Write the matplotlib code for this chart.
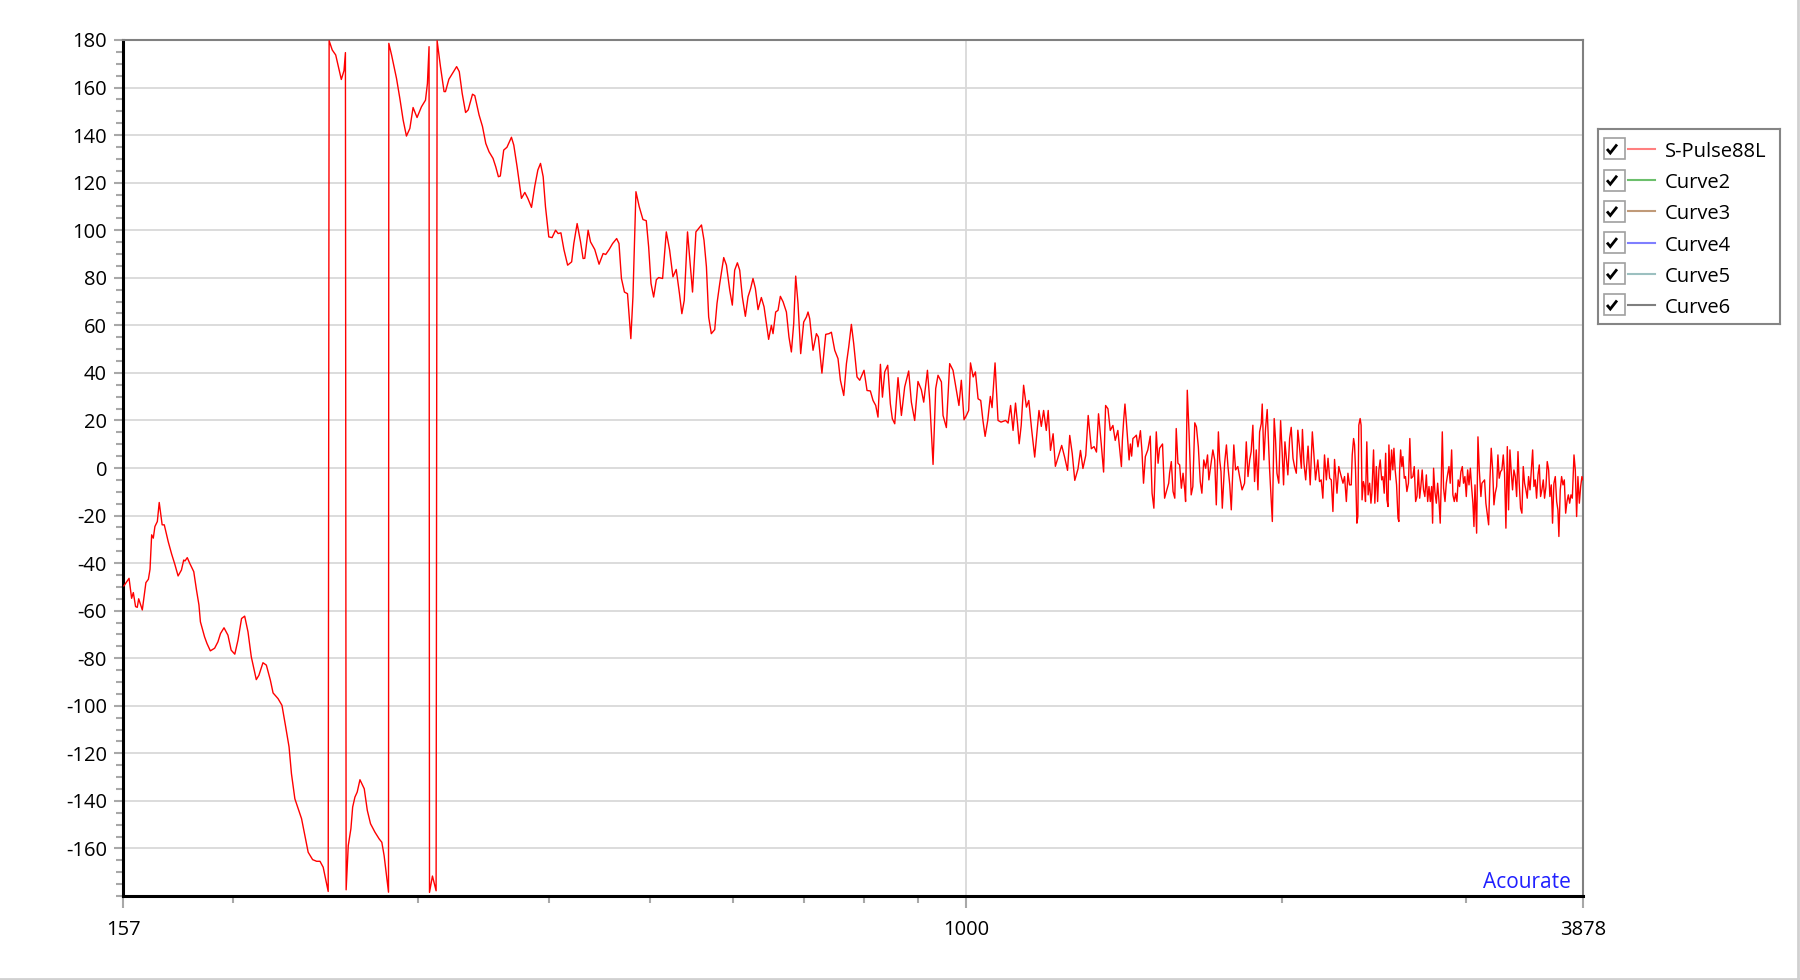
import matplotlib
matplotlib.use('Agg')
import matplotlib.pyplot as plt
from matplotlib.ticker import FixedLocator, FixedFormatter, MultipleLocator, NullFormatter
from matplotlib.patches import Rectangle
from matplotlib.lines import Line2D

plt.rcParams['font.family'] = ['Open Sans', 'DejaVu Sans']
plt.rcParams['axes.unicode_minus'] = False

# (frequency Hz, phase deg), band by band
bass = [(157.3, -49.6), (159.1, -46.4), (160.0, -54.8), (160.6, -52.4), (161.4, -58.3), (162.0, -58.6),
        (162.5, -55.0), (163.8, -59.7), (165.1, -48.2), (166.0, -46.8), (166.6, -42.6), (167.2, -28.1),
        (167.8, -29.5), (168.4, -24.6), (169.3, -22.5), (170.0, -14.5), (171.1, -23.9), (171.9, -23.9),
        (173.4, -31.0), (174.7, -36.2), (175.9, -40.4), (177.2, -45.4), (178.5, -42.9), (179.4, -38.7),
        (179.9, -39.1), (180.8, -37.7), (181.8, -40.1), (183.4, -43.6), (184.5, -51.3), (185.5, -57.6),
        (186.1, -64.7), (187.8, -71.0), (188.8, -73.8), (190.2, -76.9), (192.0, -75.8), (193.4, -73.1),
        (194.5, -69.6), (196.0, -67.2), (197.7, -70.3), (199.1, -76.6), (200.7, -78.3), (202.1, -72.4),
        (203.7, -63.3), (205.1, -62.3), (206.6, -68.9), (208.1, -79.4), (210.4, -89.0), (211.6, -87.2),
        (213.5, -81.9), (215.1, -82.9), (217.0, -89.2), (218.3, -94.6), (220.7, -97.0), (222.6, -99.8),
        (224.3, -108.2), (226.1, -117.3), (227.3, -128.6), (229.0, -139.1), (232.4, -147.5), (234.1, -154.6),
        (235.8, -161.6), (238.1, -164.7), (240.2, -165.4), (242.0, -165.4), (243.7, -167.9), (245.2, -173.5),
        (246.4, -178.1)]

wraps = [(246.9, 179.7), (248.6, 175.8), (250.5, 173.7), (252.0, 168.8), (253.6, 163.4), (255.1, 167.1),
         (255.9, 174.7), (256.3, -177.4), (257.5, -158.8), (259.0, -151.7), (260.0, -142.6), (261.3, -138.4),
         (262.6, -136.3), (264.2, -131.1), (266.7, -134.9), (268.5, -144.0), (270.4, -149.6), (273.0, -153.1),
         (275.6, -156.0), (277.2, -157.4), (278.6, -163.0), (280.1, -171.4), (281.3, -178.4), (281.5, 178.6),
         (283.2, 173.7), (286.3, 163.8), (288.4, 155.4), (290.5, 146.3), (292.6, 139.6), (294.8, 142.8),
         (296.9, 151.6), (299.5, 147.4), (302.4, 151.9), (305.1, 154.7), (306.4, 161.7), (307.5, 177.2),
         (307.8, -178.5), (309.8, -171.6), (312.3, -177.8), (313.0, 179.7)]

lowmid = [(315.3, 168.8), (317.8, 158.3), (318.8, 158.3), (321.2, 163.5), (323.8, 166.0), (326.7, 168.8),
          (328.6, 166.7), (330.7, 157.6), (333.2, 149.5), (335.1, 150.6), (338.3, 157.2), (340.0, 156.6),
          (343.2, 148.5), (345.8, 143.6), (348.3, 136.5), (350.8, 133.0), (353.9, 130.2), (356.0, 126.7),
          (358.1, 122.5), (359.6, 122.8), (362.3, 133.7), (364.9, 134.9), (368.5, 139.1), (370.4, 135.8),
          (373.1, 126.7), (376.7, 113.4), (379.5, 115.9), (382.0, 113.4), (385.1, 109.6), (387.9, 118.6),
          (390.5, 125.3), (392.8, 128.1), (395.1, 122.5), (397.1, 109.9), (400.0, 97.2), (402.9, 96.9),
          (406.0, 100.0), (408.3, 98.6), (410.8, 98.9), (413.5, 91.9), (416.9, 85.3), (420.6, 86.7),
          (422.6, 94.4), (425.7, 102.8), (428.9, 95.1), (431.3, 88.1), (432.9, 88.2), (436.1, 100.0),
          (438.4, 95.1), (442.5, 91.9), (446.7, 85.7), (450.7, 90.2), (453.3, 89.8), (456.7, 91.9),
          (460.2, 94.4), (464.3, 96.5), (466.7, 94.4), (469.2, 79.7), (472.3, 74.0), (475.5, 73.3),
          (479.0, 54.4), (481.2, 71.9), (484.4, 116.2), (487.9, 109.9), (491.9, 104.5), (495.5, 104.0),
          (498.1, 93.0), (500.7, 77.6), (503.6, 71.9), (506.6, 79.2), (509.2, 80.1), (513.6, 79.7),
          (517.8, 99.3), (521.6, 91.6), (525.4, 80.4), (529.2, 83.5), (533.0, 73.3), (535.8, 64.9),
          (538.6, 70.5), (542.5, 99.3), (545.7, 86.0), (548.5, 74.0), (552.6, 99.3)]

mid = [(559.4, 102.2), (562.5, 95.8), (565.5, 84.6), (568.3, 63.5), (571.6, 56.5), (575.9, 58.2),
       (578.8, 69.2), (582.3, 77.6), (587.4, 88.5), (590.9, 85.3), (595.2, 74.8), (598.6, 68.5),
       (601.7, 83.2), (605.3, 86.3), (608.4, 83.2), (611.9, 72.0), (616.0, 63.8), (619.6, 72.0),
       (623.2, 75.5), (626.4, 79.7), (629.7, 75.5), (633.4, 66.6), (638.0, 71.7), (641.8, 67.8),
       (645.1, 60.7), (648.3, 54.1), (652.2, 60.0), (654.6, 56.5), (658.4, 65.6), (661.8, 66.3),
       (665.2, 72.2), (669.2, 69.9), (674.1, 65.6), (677.9, 55.1), (681.5, 48.8), (685.0, 60.7),
       (688.0, 80.7), (691.5, 69.2), (695.6, 48.1), (700.2, 61.4), (704.4, 63.5), (706.9, 65.6),
       (709.5, 62.8), (714.7, 49.5), (720.0, 56.5), (723.1, 55.1), (728.8, 39.9), (734.9, 56.2),
       (740.3, 56.5), (744.1, 57.1), (749.6, 49.5), (755.0, 46.0), (759.0, 36.9), (764.6, 30.5),
       (769.1, 43.9), (773.0, 50.9), (777.5, 60.4), (781.5, 52.3), (787.2, 38.3), (791.9, 36.9),
       (799.4, 41.1), (804.7, 32.6), (810.6, 32.4), (815.4, 28.4), (820.2, 26.3), (824.3, 21.4),
       (828.7, 43.6), (832.4, 29.8), (836.6, 40.4), (842.1, 43.2), (847.0, 27.0), (850.7, 20.7)]

uppermid = [(855.2, 18.6), (861.4, 38.0), (867.8, 22.1), (874.1, 34.1), (881.8, 40.8), (887.0, 27.7),
            (893.5, 20.0), (900.0, 36.4), (906.7, 32.9), (911.4, 27.7), (918.9, 41.1), (923.5, 28.4),
            (930.3, 1.5), (935.7, 33.4), (940.5, 39.0), (947.5, 36.2), (950.9, 22.1), (957.9, 17.0),
            (964.9, 43.9), (972.0, 41.1), (979.2, 32.6), (984.7, 26.3), (989.9, 36.9), (995.8, 20.3),
            (1001, 22.1), (1006, 24.2), (1010, 44.2), (1016, 38.3), (1021, 40.4), (1027, 29.1),
            (1033, 28.4), (1038, 20.0), (1043, 13.3), (1049, 20.0), (1055, 30.1), (1059, 25.4),
            (1066, 44.2), (1073, 20.0), (1080, 19.3), (1091, 20.0), (1097, 18.9), (1103, 26.3),
            (1109, 15.8), (1115, 27.3), (1120, 18.6), (1124, 10.2), (1129, 17.9), (1135, 34.8),
            (1142, 25.6), (1148, 28.4), (1155, 16.5), (1163, 4.6), (1174, 24.2), (1180, 17.5),
            (1186, 24.2), (1193, 15.8), (1198, 24.2), (1204, 7.4), (1211, 14.4), (1217, 0.7),
            (1226, 5.3), (1234, 9.5), (1242, 4.6), (1250, -1.0), (1256, 13.7), (1263, 6.0),
            (1270, -5.2), (1279, -0.4), (1286, 7.4), (1293, -0.2), (1301, 5.3), (1308, 22.1),
            (1317, 8.1), (1325, 9.0), (1332, 6.7), (1338, 22.8), (1346, 10.2), (1353, -1.7),
            (1359, 26.3), (1366, 24.9), (1373, 15.8), (1381, 17.9), (1388, 11.6), (1396, 15.8)]

presence = [(1407, 0.6), (1410, 11.7), (1414, 20.1), (1418, 26.9), (1422, 20.1), (1427, 11.0),
            (1431, 3.4), (1435, 10.1), (1439, 5.0), (1443, 12.4), (1449, 13.1), (1454, 13.8),
            (1459, 8.9), (1467, 15.7), (1472, 6.9), (1477, -6.4), (1483, 4.8), (1491, 7.6),
            (1499, 13.4), (1505, -10.6), (1511, -16.9), (1519, 15.2), (1525, 2.0), (1530, 8.3),
            (1540, 10.1), (1547, -12.7), (1553, -9.9), (1561, -6.4), (1564, -2.2), (1570, 2.7),
            (1576, -9.9), (1582, -12.7), (1587, 16.6), (1593, 2.0), (1599, 1.3), (1605, -8.5),
            (1611, -2.2), (1617, -9.2), (1620, -14.1), (1626, 32.7), (1632, 15.9), (1640, -11.3),
            (1646, -7.8), (1653, 19.0), (1659, 17.3), (1666, 8.9), (1673, -5.7), (1679, -10.6),
            (1686, 3.4), (1693, -0.1), (1700, 5.5), (1705, -5.0), (1714, 2.7), (1720, 7.6),
            (1727, 3.4), (1733, -15.5), (1741, 15.2), (1746, 3.4), (1751, -1.5), (1756, -16.9),
            (1765, 2.0), (1772, 9.7), (1778, 0.6), (1785, -7.1), (1791, -17.6), (1801, 9.7),
            (1808, -0.8), (1817, 0.6), (1824, -3.6), (1834, -9.2), (1844, -6.4), (1851, 11.0),
            (1858, -3.6), (1865, 3.4), (1871, 6.9), (1878, 18.0), (1885, -5.7), (1892, 7.6),
            (1899, -9.2), (1906, 15.2), (1913, 18.7), (1917, 26.9), (1924, 3.4), (1931, 16.6),
            (1938, 24.6), (1948, -0.1), (1960, -22.5), (1968, 20.8), (1974, 11.7), (1980, -2.2),
            (1988, -6.4), (1996, 19.9), (2003, 6.2), (2009, -7.1), (2015, 11.0), (2021, 4.8),
            (2028, -2.9), (2036, 12.4), (2043, 17.1), (2051, 4.1), (2058, 0.6), (2066, -2.2),
            (2073, 15.9), (2081, 8.3), (2089, -0.1), (2094, 16.2), (2101, 2.0), (2109, -5.0),
            (2120, 9.2), (2130, -7.1), (2140, 15.2), (2147, 6.2), (2155, -5.0), (2166, 3.4),
            (2174, -5.7), (2182, -5.0), (2190, -12.7), (2198, 5.5), (2207, -5.0), (2215, 4.1),
            (2223, -4.3), (2231, -5.0), (2239, -18.3), (2247, 3.6), (2259, -10.6), (2268, 0.6),
            (2276, -2.2), (2289, -6.4), (2297, -3.6), (2306, -14.1), (2314, -2.2), (2322, -7.1)]

treble = [(2331, -7.1), (2336, 5.5), (2343, 12.4), (2348, 9.7), (2353, -0.8), (2360, -23.2),
          (2365, -20.4), (2370, 18.0), (2377, 20.8), (2382, 18.0), (2387, -13.4), (2394, -5.7),
          (2400, -7.8), (2405, -14.1), (2412, 11.0), (2419, -11.3), (2427, -6.4), (2434, -14.8),
          (2439, -10.6), (2448, 7.6), (2455, -14.8), (2463, 0.6), (2470, -14.1), (2477, -0.8),
          (2484, 3.4), (2492, -5.0), (2499, -3.6), (2506, -10.6), (2514, 6.2), (2521, -13.4),
          (2527, -16.2), (2532, 9.7), (2539, -5.0), (2547, 7.6), (2554, -0.8), (2560, 8.3),
          (2567, -0.8), (2575, -7.1), (2583, -21.1), (2588, -22.5), (2592, -1.5), (2598, 7.6),
          (2605, 0.6), (2611, 4.8), (2619, -4.3), (2626, -3.6), (2634, -9.9), (2643, -6.4),
          (2651, 12.4), (2659, -4.3), (2669, -3.6), (2677, 0.6), (2685, -14.1), (2693, -12.0),
          (2701, -0.8), (2709, -12.7), (2716, -7.8), (2724, -0.8), (2732, -9.2), (2740, -12.0),
          (2749, -2.9), (2757, -14.1), (2765, -7.8), (2773, -14.1), (2781, -7.8), (2787, -23.2),
          (2793, -0.1), (2801, -9.9), (2810, -14.8), (2818, -6.4), (2826, -13.4), (2834, -23.2),
          (2840, -7.1), (2847, 15.2), (2855, -8.5), (2864, -14.1), (2872, -6.4), (2880, -2.9),
          (2889, 0.6), (2897, -6.4), (2906, 7.6), (2914, -11.3), (2923, -14.1), (2931, -10.6),
          (2940, -14.1), (2948, -5.0), (2957, -7.8), (2966, -1.5), (2975, 0.6), (2983, -6.4),
          (2992, -3.6), (3001, -12.0), (3010, -0.8), (3019, -7.1), (3028, -0.1), (3036, -7.8),
          (3045, -14.8), (3052, -24.6), (3059, -7.1), (3070, -27.4), (3079, 13.1), (3088, -0.8),
          (3099, -12.0), (3106, -6.4), (3115, -5.7), (3124, -5.0), (3133, -14.8), (3142, -19.0),
          (3152, -23.9), (3161, -5.0), (3170, 8.3), (3180, -0.8), (3189, -15.5), (3198, -10.6),
          (3208, -7.8), (3217, 5.5), (3226, -4.3), (3236, -1.5), (3245, -0.8), (3255, 5.5),
          (3264, -2.2), (3274, -25.3), (3284, 9.0), (3293, -17.6), (3303, 7.6), (3313, -2.2),
          (3322, -9.2), (3332, -0.8), (3342, -3.6), (3352, -12.0), (3362, 6.9), (3371, -6.4),
          (3381, -16.9), (3391, -19.0), (3401, 0.6), (3411, -6.4), (3421, -9.2), (3431, -12.7),
          (3441, -3.6), (3452, -9.2), (3462, -0.8), (3472, 7.6), (3482, -7.8), (3492, -5.0),
          (3502, -12.7), (3513, -2.9), (3523, 1.3), (3533, -12.0), (3543, -9.2), (3554, -5.0),
          (3564, -12.7), (3575, -7.8), (3585, 2.7), (3596, -0.8), (3606, -12.0), (3617, -7.1),
          (3627, -23.2), (3638, -6.4), (3649, -3.6), (3660, -14.1), (3670, -17.6), (3678, -28.8),
          (3689, -9.2), (3700, -3.6), (3711, -7.1), (3722, -5.0), (3733, -19.0), (3744, -14.1),
          (3755, -11.3), (3766, -14.8), (3777, -11.3), (3788, -12.7), (3802, 5.5), (3813, -0.8),
          (3824, -20.4), (3835, -3.6), (3847, -14.8), (3858, -7.8), (3869, -3.6), (3878, -5.0)]

x_ticks = [157, 1000, 3878]
x_minor = [200, 300, 400, 500, 600, 700, 800, 900, 2000, 3000]
y_ticks = list(range(-160, 181, 20))

legend_names = ['S-Pulse88L', 'Curve2', 'Curve3', 'Curve4', 'Curve5', 'Curve6']
legend_colors = ['#ff7f7f', '#6cbf6c', '#c09a78', '#7f7fff', '#9cc0c0', '#7f7f7f']

points = bass + wraps + lowmid + mid + uppermid + presence + treble
freq = [f for f, p in points]
phase = [p for f, p in points]

fig = plt.figure(figsize=(18, 9.8), dpi=100)
ax = fig.add_axes([123 / 1800, 84 / 980, 1460 / 1800, 856 / 980])

ax.plot(freq, phase, color='#ff0000', lw=1.0, zorder=3)

ax.set_xscale('log')
ax.set_xlim(157, 3878)
ax.set_ylim(-180, 180)
ax.xaxis.set_major_locator(FixedLocator(x_ticks))
ax.xaxis.set_major_formatter(FixedFormatter([str(t) for t in x_ticks]))
ax.xaxis.set_minor_locator(FixedLocator(x_minor))
ax.xaxis.set_minor_formatter(NullFormatter())
ax.yaxis.set_major_locator(FixedLocator(y_ticks))
ax.yaxis.set_minor_locator(MultipleLocator(5))

ax.grid(True, which='major', color='#d9d9d9', lw=1.3, zorder=0)
ax.tick_params(which='both', color='#a8a8a8', width=1.5, labelsize=14.5, labelcolor='black')
ax.tick_params(axis='y', which='major', length=6.5, pad=5)
ax.tick_params(axis='y', which='minor', length=5)
ax.tick_params(axis='x', which='major', length=8.5, pad=9)
ax.tick_params(axis='x', which='minor', length=5)

for side in ['left', 'bottom']:
    ax.spines[side].set_color('black')
    ax.spines[side].set_linewidth(2.2)
for side in ['top', 'right']:
    ax.spines[side].set_color('#808080')
    ax.spines[side].set_linewidth(1.5)

ax.text(0.992, 0.009, 'Acourate', color='#2020ff', fontsize=15, ha='right', va='baseline',
        transform=ax.transAxes)

# legend drawn by hand (checkbox, line sample, name), in pixel units
lax = fig.add_axes([1598 / 1800, (980 - 324) / 980, 182 / 1800, 195 / 980])
lax.set_xlim(0, 182)
lax.set_ylim(195, 0)
lax.set_xticks([])
lax.set_yticks([])
for s in lax.spines.values():
    s.set_color('#858585')
    s.set_linewidth(1.5)
for i, (name, col) in enumerate(zip(legend_names, legend_colors)):
    top = 9.5 + 31.2 * i
    lax.add_patch(Rectangle((5.5, top), 21, 21, facecolor='white', edgecolor='#a0a0a0', lw=1.2))
    lax.plot([9.0, 12.3, 19.0], [top + 10.5, top + 14.5, top + 6.0], color='black', lw=2.0,
             solid_capstyle='butt', solid_joinstyle='miter')
    lax.plot([30, 57], [top + 10.5, top + 10.5], color=col, lw=1.5)
    lax.text(67, top + 13.5, name, fontsize=14.5, va='center', ha='left', color='black')

# light frame at right and bottom edge of the window
fig.add_artist(Line2D([0, 1], [0.0015, 0.0015], color='#d0d0d0', lw=2, transform=fig.transFigure))
fig.add_artist(Line2D([0.999, 0.999], [0, 1], color='#d0d0d0', lw=2, transform=fig.transFigure))

fig.savefig('out.png', dpi=100)
